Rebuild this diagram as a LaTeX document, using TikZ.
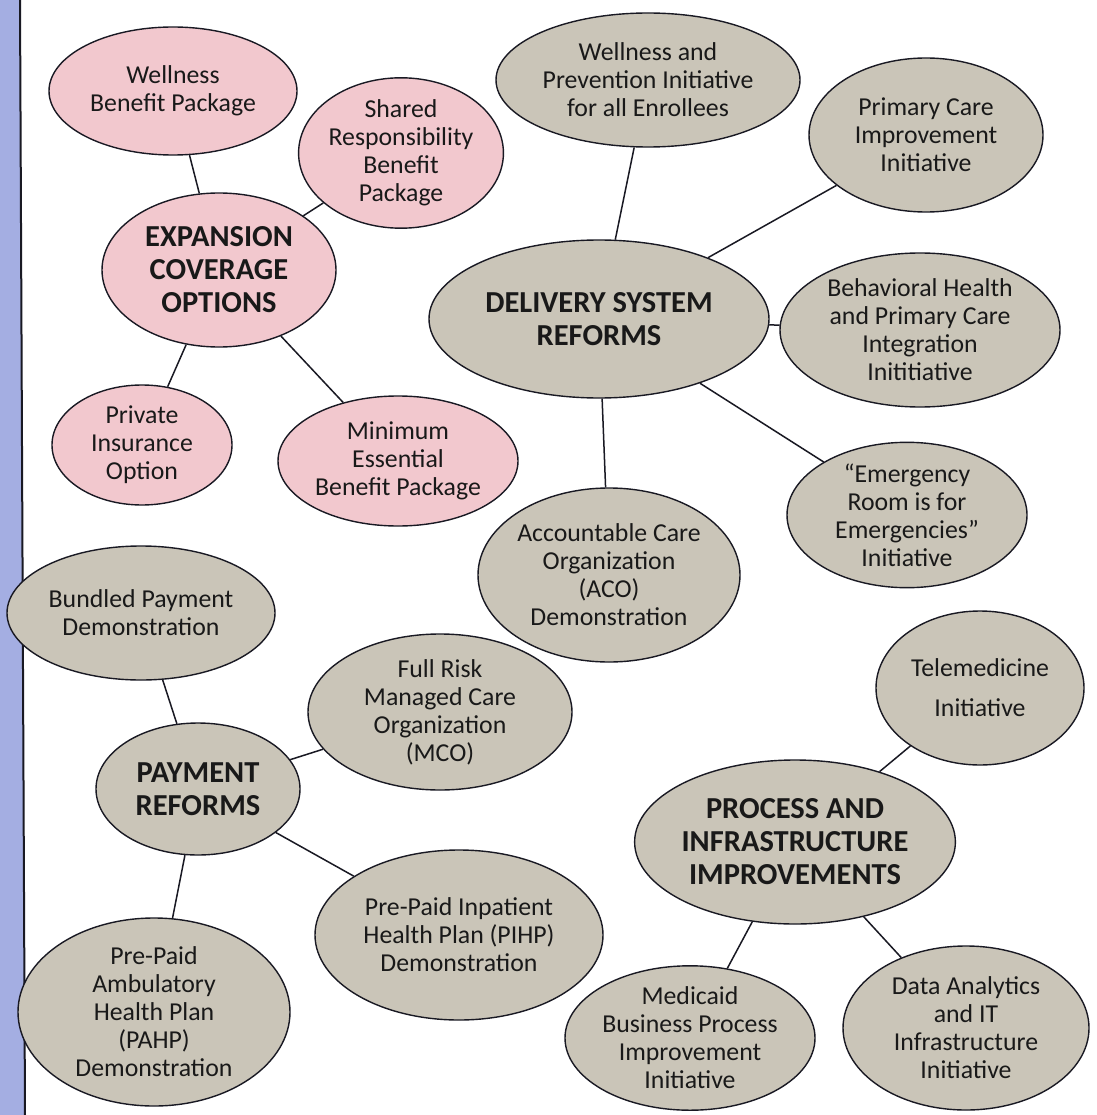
\documentclass[tikz,border=0pt]{standalone}
\usepackage{fontspec}
\setmainfont{Carlito}
\usetikzlibrary{shapes.geometric}
\definecolor{pinkfill}{RGB}{242,200,206}
\definecolor{grayfill}{RGB}{202,197,184}
\definecolor{stripfill}{RGB}{164,174,226}
\definecolor{edgecol}{RGB}{25,25,35}
\tikzset{
  bub/.style={ellipse, draw=edgecol, line width=1.4pt, inner sep=0pt, align=center,
    font=\fontsize{25.8}{28}\selectfont, text=black!90},
  pinkbub/.style={bub, fill=pinkfill},
  graybub/.style={bub, fill=grayfill},
  hub/.style={font=\fontsize{30.5}{33}\selectfont\bfseries},
  sz/.style 2 args={minimum width=#1pt, minimum height=#2pt},
  link/.style={draw=edgecol, line width=1.5pt}
}
\begin{document}
\begin{tikzpicture}[x=1pt,y=-1pt]
\useasboundingbox (0,0) rectangle (1096,1115);
\fill[white] (0,0) rectangle (1096,1115);
\fill[stripfill] (0,0) -- (20,0) -- (25,1115) -- (0,1115) -- cycle;
\draw[edgecol, line width=2pt] (20,0) -- (25,1115);

% Expansion cluster
\node[pinkbub, sz={248}{128}] (wbp) at (173,91) {Wellness\\Benefit Package};
\node[pinkbub, sz={192}{137}] (srb) at (401,153) {Shared\\Responsibility\\Benefit\\Package};
\node[pinkbub, hub, sz={234}{154}] (exp) at (219,270) {EXPANSION\\COVERAGE\\OPTIONS};
\node[pinkbub, sz={180}{120}] (pio) at (142,445) {Private\\Insurance\\Option};
\node[pinkbub, sz={240}{130}] (mebp) at (398,461) {Minimum\\Essential\\Benefit Package};

% Delivery cluster
\node[graybub, sz={304}{134}] (wpi) at (648,80) {Wellness and\\Prevention Initiative\\for all Enrollees};
\node[graybub, sz={234}{154}] (pci) at (926,135) {Primary Care\\Improvement\\Initiative};
\node[graybub, hub, sz={340}{158}] (dsr) at (599,319) {DELIVERY SYSTEM\\REFORMS};
\node[graybub, sz={280}{154}] (bhi) at (920,330) {Behavioral Health\\and Primary Care\\Integration\\Inititiative};
\node[graybub, sz={240}{136}] (eri) at (907,515) {``Emergency\\Room is for\\Emergencies''\\Initiative};
\node[graybub, sz={262}{174}] (aco) at (609,575) {Accountable Care\\Organization\\(ACO)\\Demonstration};

% Payment cluster
\node[graybub, sz={268}{134}] (bpd) at (141,613) {Bundled Payment\\Demonstration};
\node[graybub, sz={264}{156}] (mco) at (440,712) {Full Risk\\Managed Care\\Organization\\(MCO)};
\node[graybub, hub, sz={204}{132}] (pay) at (198,789) {PAYMENT\\REFORMS};
\node[graybub, sz={288}{170}] (pihp) at (459,935) {Pre-Paid Inpatient\\Health Plan (PIHP)\\Demonstration};
\node[graybub, sz={272}{188}] (pahp) at (154,1012) {Pre-Paid\\Ambulatory\\Health Plan\\(PAHP)\\Demonstration};

% Process cluster
\node[graybub, sz={208}{154}, font=\fontsize{25.8}{40}\selectfont] (tel) at (980,688) {Telemedicine\\Initiative};
\node[graybub, hub, sz={300}{164}] (pii) at (795,842) {PROCESS AND\\INFRASTRUCTURE\\IMPROVEMENTS};
\node[graybub, sz={250}{140}] (mbp) at (690,1038) {Medicaid\\Business Process\\Improvement\\Initiative};
\node[graybub, sz={246}{164}] (dai) at (966,1028) {Data Analytics\\and IT\\Infrastructure\\Initiative};

% Connectors
\draw[link] (wbp) -- (exp);
\draw[link] (srb) -- (exp);
\draw[link] (exp) -- (pio);
\draw[link] (exp) -- (mebp);
\draw[link] (wpi) -- (dsr);
\draw[link] (pci) -- (dsr);
\draw[link] (dsr) -- (bhi);
\draw[link] (dsr) -- (eri);
\draw[link] (dsr) -- (aco);
\draw[link] (bpd) -- (pay);
\draw[link] (pay) -- (mco);
\draw[link] (pay) -- (pihp);
\draw[link] (pay) -- (pahp);
\draw[link] (tel) -- (pii);
\draw[link] (pii) -- (mbp);
\draw[link] (pii) -- (dai);
\end{tikzpicture}
\end{document}
